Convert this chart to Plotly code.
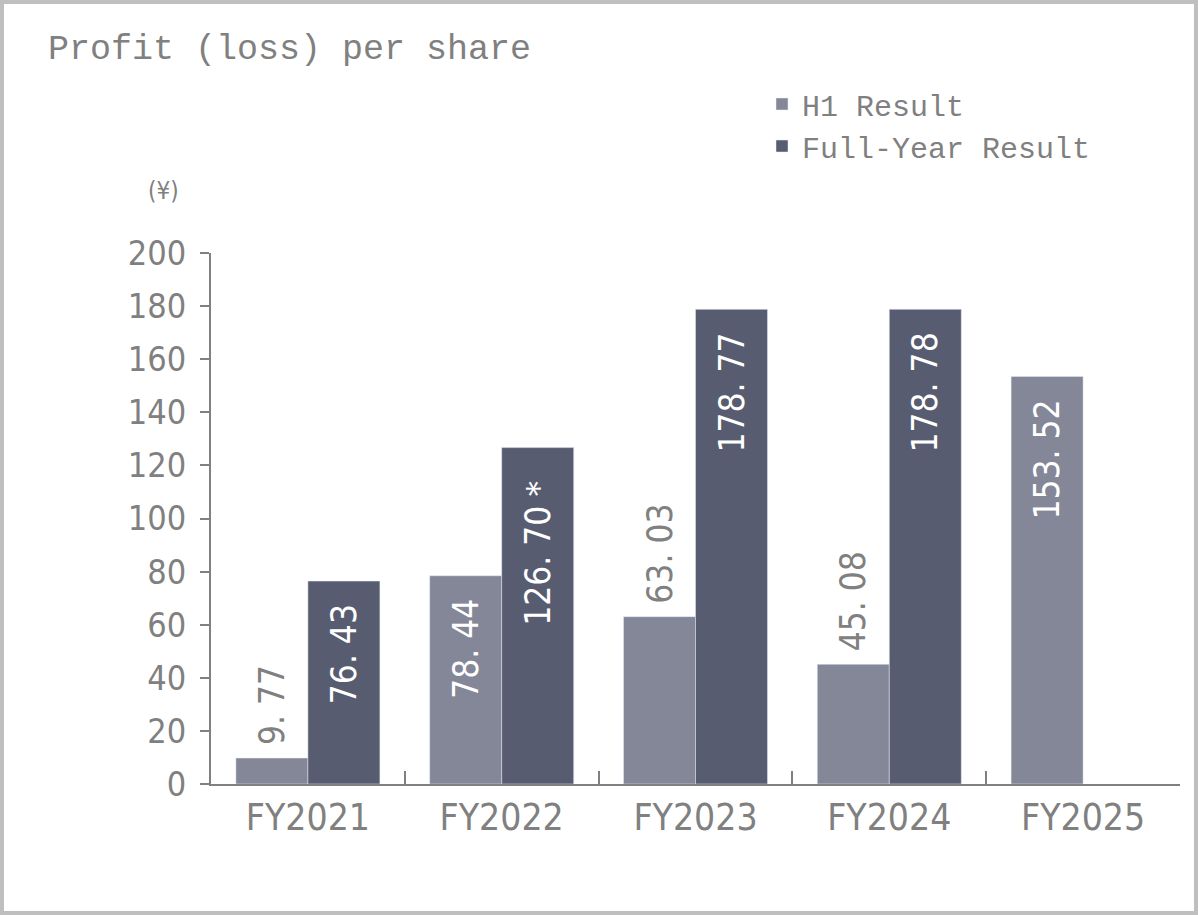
import plotly.graph_objects as go

categories = ["FY2021", "FY2022", "FY2023", "FY2024", "FY2025"]
h1_values = [9.77, 78.44, 63.03, 45.08, 153.52]
fy_values = [76.43, 126.70, 178.77, 178.78, None]
fy_notes = ["", "＊", "", "", ""]
y_ticks = [0, 20, 40, 60, 80, 100, 120, 140, 160, 180, 200]

H1_COLOR = "#848797"
FY_COLOR = "#575c70"
TXT = "#808080"
NUM_FONT = "Liberation Sans Narrow, DejaVu Sans Condensed, Liberation Sans"
MONO_FONT = "Liberation Mono, DejaVu Sans Mono, monospace"

h1_pos = ["outside", "inside", "outside", "outside", "inside"]
NB = "\u00a0"

def fmt(v):
    return f"{v:.2f}".replace(".", ". ")

h1_text = []
for v, p in zip(h1_values, h1_pos):
    if p == "outside":
        h1_text.append(NB + fmt(v))
    else:
        h1_text.append(fmt(v) + NB * 2)
fy_text = [(fmt(v) + n + NB * 2) if v is not None else "" for v, n in zip(fy_values, fy_notes)]

W, H = 1198, 915
L, R, T, B = 211, 18, 253, 131
PW, PH = W - L - R, H - T - B

def px(x):
    return (x - L) / PW

def py(y):
    return (H - B - y) / PH

fig = go.Figure()
fig.add_trace(go.Bar(
    name="H1 Result", x=categories, y=h1_values, marker_color=H1_COLOR,
    text=h1_text, textposition=h1_pos, textangle=-90, insidetextanchor="end",
    insidetextfont=dict(color="white", size=35, family=NUM_FONT),
    outsidetextfont=dict(color=TXT, size=35, family=NUM_FONT),
    constraintext="none", cliponaxis=False, hoverinfo="skip",
))
fig.add_trace(go.Bar(
    name="Full-Year Result", x=categories, y=fy_values, marker_color=FY_COLOR,
    text=fy_text, textposition="inside", textangle=-90, insidetextanchor="end",
    insidetextfont=dict(color="white", size=35, family=NUM_FONT),
    constraintext="none", cliponaxis=False, hoverinfo="skip",
))

fig.update_layout(
    width=W, height=H,
    margin=dict(l=L, r=R, t=T, b=B),
    paper_bgcolor="white", plot_bgcolor="white",
    barmode="group", bargap=0.257, bargroupgap=0,
    showlegend=True,
    legend=dict(
        x=px(762), y=py(78), xanchor="left", yanchor="top",
        font=dict(family=MONO_FONT, size=30, color=TXT),
        itemwidth=30, tracegroupgap=0, bgcolor="rgba(0,0,0,0)",
    ),
    xaxis=dict(
        showline=True, linecolor=TXT, linewidth=2,
        ticks="inside", tickson="boundaries", ticklen=13, tickcolor=TXT, tickwidth=2,
        tickfont=dict(family=NUM_FONT, size=37, color=TXT),
        ticklabelstandoff=0, showgrid=False, zeroline=False, fixedrange=True,
    ),
    yaxis=dict(
        range=[0, 200], tickvals=y_ticks, showline=True, linecolor=TXT, linewidth=2,
        ticks="outside", ticklen=9, tickcolor=TXT, tickwidth=2,
        tickfont=dict(family=NUM_FONT, size=34, color=TXT),
        ticklabelstandoff=7, showgrid=False, zeroline=False, fixedrange=True,
    ),
    annotations=[
        dict(text="Profit (loss) per share", xref="paper", yref="paper",
             x=px(46), y=py(50), xanchor="left", yanchor="middle", showarrow=False,
             font=dict(family=MONO_FONT, size=35, color=TXT)),
        dict(text="(¥)", xref="paper", yref="paper",
             x=px(163), y=py(191), xanchor="center", yanchor="middle", showarrow=False,
             font=dict(family=NUM_FONT, size=24, color=TXT)),
    ],
    shapes=[
        dict(type="rect", xref="paper", yref="paper", layer="above",
             x0=px(2), x1=px(W - 2), y0=py(H - 2), y1=py(2),
             line=dict(color="#bfbfbf", width=4), fillcolor="rgba(0,0,0,0)"),
    ],
)

fig.write_html("out.html", config={"displayModeBar": False},
               post_script="document.body.style.margin='0';document.body.style.overflow='hidden';")
